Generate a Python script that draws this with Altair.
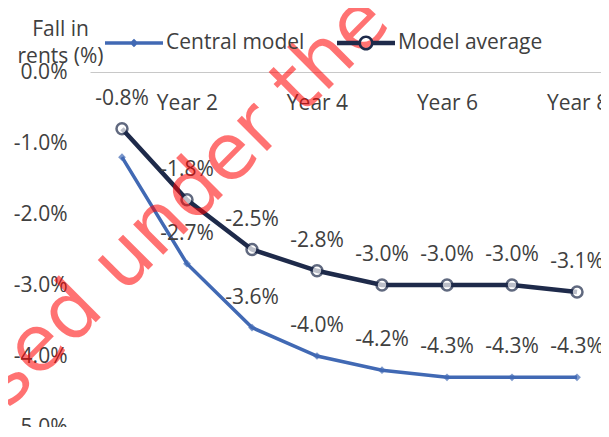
import altair as alt
import pandas as pd

# ---- data ----
years = [1, 2, 3, 4, 5, 6, 7, 8]
central = [-1.2, -2.7, -3.6, -4.0, -4.2, -4.3, -4.3, -4.3]
average = [-0.8, -1.8, -2.5, -2.8, -3.0, -3.0, -3.0, -3.1]
central_labels = ["", "-2.7%", "-3.6%", "-4.0%", "-4.2%", "-4.3%", "-4.3%", "-4.3%"]
average_labels = ["-0.8%", "-1.8%", "-2.5%", "-2.8%", "-3.0%", "-3.0%", "-3.0%", "-3.1%"]
series_names = ["Central model", "Model average"]
line_colors = ["#4169b4", "#1e2a4a"]
year_ticks = [2, 4, 6, 8]
y_ticks = [0.0, -0.01, -0.02, -0.03, -0.04, -0.05]
watermark_text = "sed under the"

rows = []
for i, yr in enumerate(years):
    rows.append({"series": series_names[0], "year": yr, "value": central[i] / 100, "label": central_labels[i]})
    rows.append({"series": series_names[1], "year": yr, "value": average[i] / 100, "label": average_labels[i]})
df = pd.DataFrame(rows)

FONT = "Open Sans"
TXT = "#404040"
FS = 21

# legend symbols (normalized [-1,1] SVG paths): line + marker
path_central = ("M-1,-0.06L1,-0.06L1,0.06L-1,0.06Z "
                "M0,-0.15L0.15,0L0,0.15L-0.15,0Z")
path_average = ("M-1,-0.075L-0.24,-0.075L-0.24,0.075L-1,0.075Z "
                "M0.24,-0.075L1,-0.075L1,0.075L0.24,0.075Z "
                "M0.26,0A0.26,0.26 0 1,1 -0.26,0A0.26,0.26 0 1,1 0.26,0Z "
                "M0.17,0A0.17,0.17 0 1,0 -0.17,0A0.17,0.17 0 1,0 0.17,0Z")

x_enc = alt.X(
    "year:Q",
    scale=alt.Scale(domain=[0.508, 8.369], nice=False, zero=False),
    axis=alt.Axis(
        orient="top", values=year_ticks, labelExpr="'Year ' + datum.value",
        ticks=False, tickSize=0, labelPadding=-31, labelBaseline="middle",
        domainColor="#c8c8c8", domainWidth=1, grid=False, title=None,
        labelFlush=False, labelFontSize=FS, labelFont=FONT, labelColor=TXT,
    ),
)
y_enc = alt.Y(
    "value:Q",
    scale=alt.Scale(domain=[-0.05, 0], nice=False, zero=False),
    axis=alt.Axis(
        values=y_ticks,
        labelExpr="datum.value < 0 ? '-' + format(-datum.value, '.1%') : format(datum.value, '.1%')",
        grid=False, domain=False, ticks=False,
        labelPadding=23, labelFontSize=FS, labelFont=FONT, labelColor=TXT,
        title=["Fall in", "rents (%)"], titleAngle=0, titleAlign="center",
        titleBaseline="alphabetic", titleX=-30, titleY=-37, titleLineHeight=27,
        titleFontSize=FS, titleFont=FONT, titleFontWeight="normal", titleColor=TXT,
    ),
)

base = alt.Chart(df)
c_data = base.transform_filter(alt.datum.series == series_names[0])
a_data = base.transform_filter(alt.datum.series == series_names[1])

line_c = c_data.mark_line(color=line_colors[0], strokeWidth=3.5).encode(x=x_enc, y=y_enc)
line_a = a_data.mark_line(color=line_colors[1], strokeWidth=4.5).encode(x="year:Q", y="value:Q")

pts_c = c_data.mark_point(shape="diamond", filled=True, size=60, color=line_colors[0]).encode(
    x="year:Q", y="value:Q")
pts_a = a_data.mark_point(shape="circle", filled=True, size=120, fill="#ffffff",
                          stroke=line_colors[1], strokeWidth=2.5).encode(x="year:Q", y="value:Q")

labels = base.transform_filter(alt.datum.label != "").mark_text(
    dy=-30, fontSize=FS, font=FONT, color=TXT
).encode(x="year:Q", y="value:Q", text="label:N")

leg = alt.Legend(
    orient="none", legendX=15, legendY=-58, direction="horizontal", title=None,
    symbolSize=3364, symbolStrokeWidth=0, symbolOpacity=1,
    labelFontSize=FS, labelFont=FONT, labelColor=TXT, labelOffset=3,
    columnPadding=32,
)
legend_layer = base.mark_point(filled=True, opacity=0, size=10).encode(
    x="year:Q", y="value:Q",
    color=alt.Color("series:N", scale=alt.Scale(domain=series_names, range=line_colors), legend=leg),
    shape=alt.Shape("series:N", scale=alt.Scale(domain=series_names, range=[path_central, path_average]), legend=leg),
)

watermark = alt.Chart(pd.DataFrame({"t": [watermark_text]})).mark_text(
    angle=315, align="left", baseline="alphabetic", fontSize=78,
    font="DejaVu Sans", color="#ff0000", opacity=0.55,
).encode(x=alt.value(-82), y=alt.value(338), text="t:N")

chart = alt.layer(line_c, line_a, pts_c, pts_a, labels, legend_layer, watermark).properties(
    width=511, height=355,
    autosize=alt.AutoSizeParams(type="none"),
    padding={"left": 82, "top": 64, "right": 0, "bottom": 0},
).configure_view(stroke=None)

chart.save("out.html", embed_options={"renderer": "svg", "actions": False})
